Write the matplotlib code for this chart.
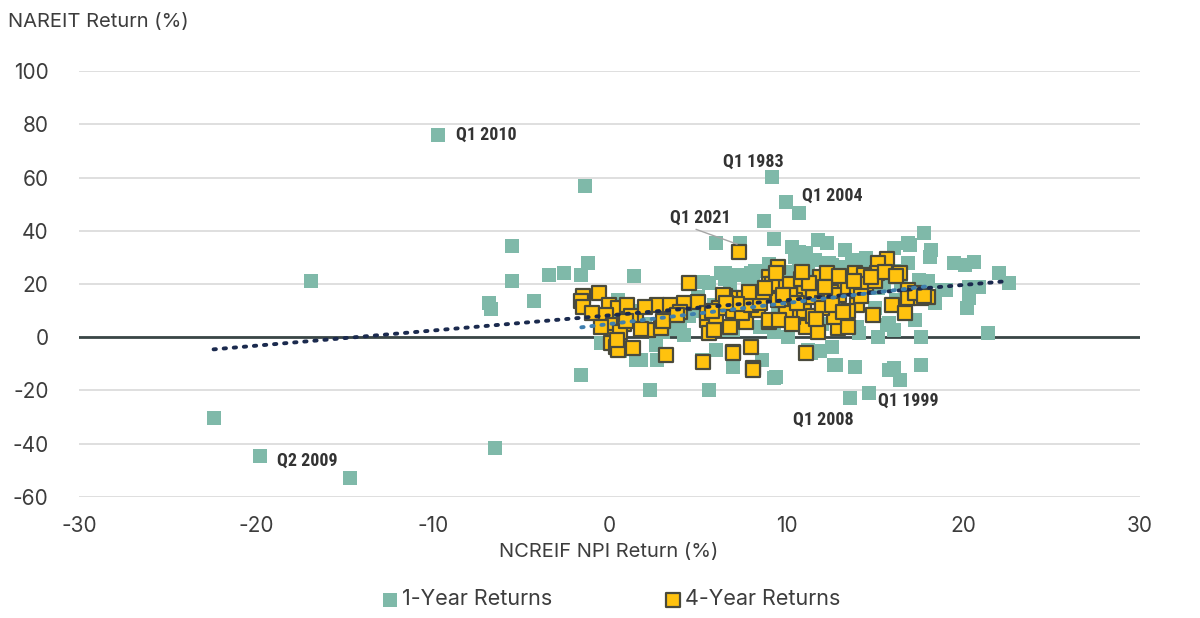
import numpy as np
import matplotlib.pyplot as plt

# 1-year returns: NCREIF NPI (x) vs NAREIT (y), %
one_year_x = [
    -9.7, -1.4, -5.5, -5.5, -3.4, -2.6, -1.6, -1.2, -4.3, -6.8, -6.7, -16.9,
    -22.4, -19.8, -14.7, -6.5, -1.6, 1.4, 2.3, 5.6, 9.3, 4.2, 1.8, 2.7,
    9.2, 10.0, 10.7, 8.75, 9.3, 6.0, 7.4, 11.8, 12.3, 13.3, 10.3, 10.9,
    5.6, 6.5, 17.8, 16.1, 17.0, 18.2, 18.1, 14.5, 19.5, 20.1, 20.6, 22.0,
    22.6, 21.4, 20.3, 20.2, 17.6, 16.1, 16.1, 16.4, 15.8, 17.6, 12.8, 9.4,
    13.6, 14.7, 11.2, 11.9, 15.7, 19.0, 16.9, 8.0, 6.3, 7.3, 8.1, 10.5,
    11.1, 11.6, 12.4, 13.1, 13.7, 14.3, 5.3, 6.5, 8.1, 10.7, 10.7, 11.2,
    12.6, 13.7, 14.8, 16.9, 16.5, 17.5, 18.8, 20.3, 20.9, 18.4, 15.8, 17.3,
    15.2, 14.1, 12.6, 11.4, 10.1, 9.3, 8.6, 7.0, 6.0, 6.4, 7.0, 5.2,
    12.7, 13.9, 0.5, 1.5, 2.0, 3.0, 4.0, -0.5, 0.6, 1.5, 0.3, 3.5,
    4.8, 5.9, 7.8, 8.8, 9.8, 10.5, 11.5, 12.2, 13.2, 14.2, 15.2, 16.2,
    7.5, 8.5, 9.5, 10.8, 12.0, 13.0, 14.0, 15.0, 6.8, 8.2, 9.0, 10.0,
    11.3, 12.5, 13.5, 14.5, 15.5, 16.5, 17.2, 18.0, 4.5, 5.0, 3.6, 2.6,
]
one_year_y = [
    76.0, 56.8, 34.2, 21.0, 23.5, 24.3, 23.3, 27.8, 13.5, 13.0, 10.5, 21.0,
    -30.5, -44.7, -53.0, -41.7, -14.3, 23.0, -20.0, -20.0, -15.4, 0.8, -8.6, -8.6,
    60.2, 50.8, 46.6, 43.6, 36.8, 35.3, 35.3, 36.5, 35.3, 32.7, 33.8, 31.6,
    20.3, 22.0, 39.3, 33.5, 34.6, 32.7, 30.2, 29.7, 27.8, 27.0, 28.2, 24.0,
    20.3, 1.5, 14.7, 11.0, 0.0, 2.6, -11.7, -16.2, -12.4, -10.5, -10.5, -15.0,
    -22.9, -21.0, -4.9, -5.3, 4.5, 17.7, 35.3, 24.0, 24.0, 23.3, 21.4, 30.0,
    31.6, 29.0, 27.8, 26.3, 29.0, 25.5, 20.7, 24.0, 22.5, 32.0, 27.5, 26.3,
    27.0, 28.0, 27.0, 27.8, 25.0, 21.4, 17.7, 18.8, 18.8, 12.8, 5.3, 6.4,
    0.0, 1.5, -3.8, -6.0, 0.0, 2.0, -8.6, -11.3, -4.9, 2.6, 2.6, -8.6,
    -10.5, -11.3, 14.0, 10.0, 5.0, 2.0, 5.0, -2.0, -5.0, -8.5, 9.0, 7.0,
    10.0, 12.0, 18.0, 16.0, 15.0, 12.5, 17.0, 14.0, 19.0, 16.0, 18.5, 14.0,
    8.0, 4.0, 9.0, 6.0, 5.0, 8.5, 4.0, 11.0, 19.0, 25.0, 27.5, 24.5,
    23.0, 22.0, 24.0, 21.0, 20.0, 20.5, 18.0, 21.0, 8.0, 15.0, 3.0, -3.0,
]

# 4-year returns
four_year_x = [
    -1.5, -1.6, -1.5, -0.6, -1.0, -0.06, 0.45, 1.0, -0.2, 0.2, 1.5, 2.2,
    2.9, 2.7, 3.4, 4.2, 5.0, 4.5, 0.2, 0.1, 0.35, 0.5, 1.3, 3.2,
    5.3, 0.8, 1.2, 0.6, -0.5, 0.4, 5.5, 5.6, 5.9, 6.8, 6.9, 6.5,
    6.4, 7.6, 8.3, 7.7, 8.0, 7.0, 7.0, 8.1, 8.1, 8.4, 9.0, 9.0,
    9.5, 9.0, 9.0, 9.8, 7.3, 5.5, 6.0, 6.2, 7.0, 7.5, 8.0, 8.5,
    8.7, 9.2, 9.4, 11.1, 11.0, 11.1, 11.8, 12.9, 13.5, 13.3, 13.9, 15.7,
    15.2, 16.4, 15.1, 14.4, 12.7, 11.9, 16.9, 16.9, 17.6, 18.0, 16.0, 16.7,
    14.9, 11.1, 10.4, 12.7, 10.0, 10.5, 11.0, 11.5, 12.0, 12.5, 13.0, 13.5,
    14.0, 14.5, 15.0, 10.2, 10.8, 12.3, 13.0, 10.0, 11.5, 12.0, 14.0, 13.5,
    9.5, 10.2, 10.6, 12.2, 13.8, 14.8, 15.6, 16.2, 17.3, 17.8, 11.3, 10.9,
    9.8, 8.8, 7.9, 7.2, 6.6, 5.8, 9.6, 10.3, 12.6, 13.2, 14.2, 11.7,
    2.0, 3.0, 4.0, 1.8, 0.9, 3.8,
]
four_year_y = [
    15.4, 13.5, 11.5, 16.5, 9.0, 12.0, 10.9, 12.0, 8.3, 4.5, 7.1, 2.6,
    3.4, 12.0, 12.0, 12.8, 13.2, 20.3, 0.0, -2.0, -3.8, -4.9, -4.1, -6.8,
    -9.4, 5.0, 8.0, 2.0, 4.0, -1.0, 6.4, 1.5, 2.6, 3.8, 14.7, 15.5,
    15.8, 14.7, 15.0, 5.6, -3.8, -5.6, -6.0, -11.7, -12.4, 10.2, 5.6, 6.4,
    26.3, 22.6, 20.0, 18.8, 32.0, 9.0, 8.0, 11.0, 10.0, 9.0, 12.0, 13.0,
    17.0, 20.0, 24.0, 18.8, 16.5, 3.8, 1.9, 3.4, 3.8, 21.4, 24.0, 29.3,
    27.8, 24.0, 24.0, 23.3, 20.7, 22.6, 17.7, 14.7, 14.7, 15.0, 12.0, 9.0,
    8.3, -6.0, 7.5, 7.5, 12.0, 14.0, 10.0, 15.0, 13.0, 17.0, 16.0, 19.0,
    18.0, 20.0, 21.0, 20.0, 22.0, 24.0, 23.0, 9.0, 8.0, 11.0, 12.0, 10.0,
    14.0, 16.0, 13.0, 19.0, 21.0, 22.5, 24.5, 23.0, 16.5, 15.5, 20.5, 24.5,
    16.0, 18.5, 17.0, 12.5, 13.0, 10.0, 6.5, 5.0, 12.0, 9.5, 15.5, 7.0,
    11.5, 6.0, 9.5, 3.0, 6.0, 8.5,
]

annotations = [
    ("Q1 2010", -9.7, 76.0, -8.7, 76.0, False),
    ("Q1 1983", 9.2, 60.2, 6.4, 66.0, False),
    ("Q1 2004", 10.7, 46.6, 10.9, 53.0, False),
    ("Q1 2021", 7.3, 32.0, 3.4, 45.0, True),
    ("Q1 1999", 14.7, -21.0, 15.2, -24.0, False),
    ("Q1 2008", 13.6, -22.9, 10.4, -31.0, False),
    ("Q2 2009", -19.8, -44.7, -18.8, -46.5, False),
]

TEAL = "#7fb9a9"
GOLD = "#ffc20e"
EDGE = "#4a4a3c"
NAVY = "#1b2a4e"
LIGHT_BLUE = "#3f7fae"
TEXT = "#3d3d3d"

plt.rcParams["font.family"] = ["Inter", "DejaVu Sans"]
plt.rcParams["axes.unicode_minus"] = False

fig = plt.figure(figsize=(12, 6.18), dpi=100)
ax = fig.add_axes([0.066, 0.196, 0.884, 0.689])

ax.scatter(one_year_x, one_year_y, marker="s", s=110, color=TEAL,
           linewidths=0, zorder=3, label="1-Year Returns")
ax.scatter(four_year_x, four_year_y, marker="s", s=105, color=GOLD,
           edgecolors=EDGE, linewidths=1.6, zorder=4, label="4-Year Returns")

# linear trend lines
for xs, ys, col in [(one_year_x, one_year_y, NAVY), (four_year_x, four_year_y, LIGHT_BLUE)]:
    xs = np.asarray(xs)
    m, b = np.polyfit(xs, ys, 1)
    xx = np.array([xs.min(), xs.max()])
    ax.plot(xx, m * xx + b, linestyle=(0, (0.6, 2.0)), dash_capstyle="round",
            color=col, linewidth=2.8, zorder=5)

ax.axhline(0, color="#3a4646", linewidth=2, zorder=2)

ax.set_xlim(-30, 30)
ax.set_ylim(-60, 100)
ax.set_yticks(np.arange(-60, 101, 20))
ax.set_xticks(np.arange(-30, 31, 10))
ax.yaxis.grid(True, color="#d9d9d9", linewidth=1.2, zorder=0)
ax.set_axisbelow(True)
for sp in ax.spines.values():
    sp.set_visible(False)
ax.tick_params(length=0, labelsize=15, colors=TEXT, pad=22)
ax.tick_params(axis="x", pad=14)

for label, px, py, tx, ty, leader in annotations:
    ax.text(tx, ty, label, fontsize=13, color="#333333", fontweight="bold",
            family=["Liberation Sans Narrow", "Roboto Condensed", "DejaVu Sans"],
            va="center", ha="left", zorder=6, fontstretch="condensed")
    if leader:
        ax.plot([tx + 1.5, px - 0.1], [ty - 4.5, py + 3], color="#a6a6a6",
                linewidth=1, zorder=6)

fig.text(0.007, 0.965, "NAREIT Return (%)", fontsize=14.5, color=TEXT,
         ha="left", va="center")
fig.text(0.507, 0.107, "NCREIF NPI Return (%)", fontsize=14.5, color=TEXT,
         ha="center", va="center")

leg = fig.legend(loc="center", bbox_to_anchor=(0.508, 0.03), ncol=2, frameon=False,
                 fontsize=15.5, handletextpad=0.05, handlelength=1.0,
                 columnspacing=5.1, markerscale=0.95, labelcolor=TEXT)

fig.savefig("out.png", dpi=100)
